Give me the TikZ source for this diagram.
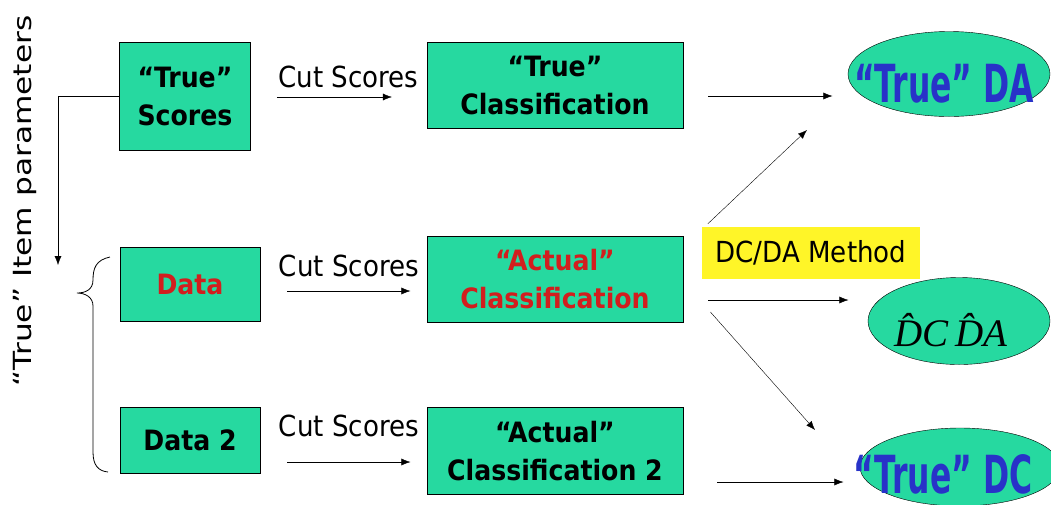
\documentclass[tikz,border=0pt]{standalone}
\usepackage{fontspec}
\setmainfont{DejaVu Sans Condensed}
\newfontfamily\widefont{DejaVu Sans}
\newfontfamily\timesfont{Liberation Serif}
\usetikzlibrary{shapes.geometric,calc,arrows.meta}
\definecolor{boxgreen}{RGB}{38,217,160}
\definecolor{dablue}{RGB}{40,50,200}
\definecolor{datared}{RGB}{210,30,30}
\definecolor{hiyellow}{RGB}{255,245,40}
\newcommand{\tallword}[1]{\scalebox{1}[1.5]{#1}}

\begin{document}
\begin{tikzpicture}[x=1pt, y=-1pt, >={Latex[length=9pt,width=7pt]},
  box/.style={draw, thick, fill=boxgreen, align=center, inner sep=0pt,
    font=\bfseries\fontsize{28}{38}\selectfont},
  oval/.style={draw, ellipse, fill=boxgreen, inner sep=0pt},
  bigblue/.style={text=dablue, inner sep=0pt, font=\bfseries\fontsize{35}{37}\selectfont},
  cutlabel/.style={font=\fontsize{29}{30}\selectfont, inner sep=0pt}]

\useasboundingbox (0,0) rectangle (1051,504);

% left side
\node[rotate=90, inner sep=0pt, font=\widefont\fontsize{25}{26}\selectfont] (itempar) at (25,201)
  {\scalebox{1.25}[1]{“True” Item parameters}};

\node[box, minimum width=131, minimum height=108] (ts) at (185,96) {“True”\\Scores};
\node[box, minimum width=140, minimum height=74, text=datared] (data) at (190,284) {Data};
\node[box, minimum width=140, minimum height=66] (data2) at (190,440) {Data 2};

\coordinate (parend) at (58,265);
\draw[->] (ts.west) -| (parend);

% brace
\draw[thick] (110,257) .. controls (96,260) and (93,268) .. (93,280)
  .. controls (93,290) and (85,293) .. (77,293)
  .. controls (85,293) and (93,297) .. (93,306) -- (93,452)
  .. controls (93,465) and (98,471) .. (108,472);

% classification boxes
\node[box, minimum width=256, minimum height=86] (tc) at (555,85) {“True”\\Classification};
\node[box, minimum width=256, minimum height=86, text=datared] (ac) at (555,279) {“Actual”\\Classification};
\node[box, minimum width=256, minimum height=87] (ac2) at (555,451) {“Actual”\\Classification 2};

\draw[->] ($(ts.east)+(26,1)$) -- ++(115,0) node[cutlabel, midway, above=9pt, xshift=14pt] {Cut Scores};
\draw[->] ($(data.east)+(27,7)$) -- ++(123,0) node[cutlabel, midway, above=14pt] {Cut Scores};
\draw[->] ($(data2.east)+(27,22)$) -- ++(123,0) node[cutlabel, midway, above=25pt] {Cut Scores};

% results
\node[oval, minimum width=202, minimum height=85] (tda) at (949,74) {};
\node[bigblue] (tdatext) at (944,84) {\tallword{“True” DA}};
\node[oval, minimum width=182, minimum height=87] (dcda) at (959,321) {};
\node[inner sep=0pt, font=\timesfont\itshape\fontsize{39}{40}\selectfont] (dcdatext) at (951,330) {\^{D}C\,\^{D}A};
\node[oval, minimum width=200, minimum height=78] (tdc) at (960,467) {};
\node[bigblue] (tdctext) at (943,474) {\tallword{“True” DC}};

\node[fill=hiyellow, minimum width=218, minimum height=52, inner sep=0pt,
  font=\fontsize{29}{30}\selectfont] (method) at (811,253) {DC/DA Method};

\draw[->] ($(tc.east)+(25,11)$) -- ++(124,0);
\draw[->] ($(ac.east)+(25,21)$) -- ++(140,0);
\draw[->] ($(ac2.east)+(34,31)$) -- ++(126,0);
\draw[->] (method.north west) ++(6,-3) -- (807,130);
\draw[->] ($(ac.east)+(27,33)$) -- (815,430);

\end{tikzpicture}
\end{document}
